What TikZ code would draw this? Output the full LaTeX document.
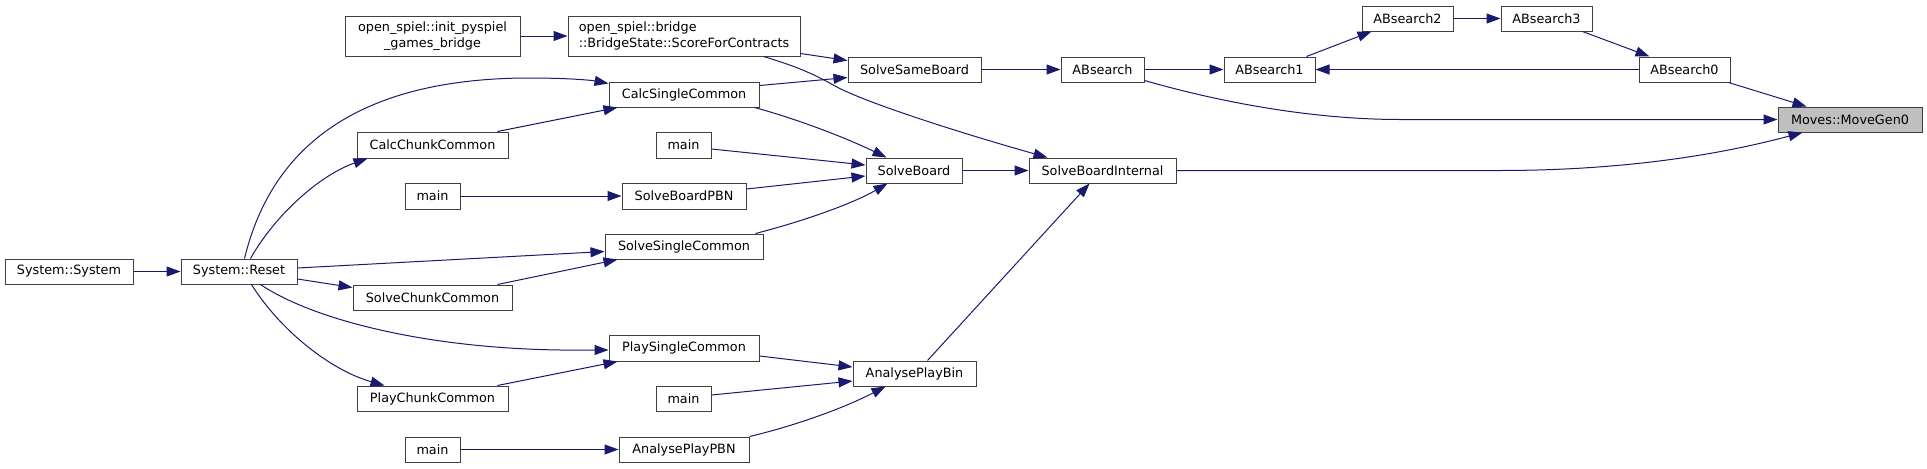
\documentclass[tikz,border=0pt]{standalone}
\usepackage{fontspec}
\setmainfont{DejaVu Sans}
\usetikzlibrary{arrows.meta,calc}
\definecolor{edgec}{HTML}{191970}
\definecolor{boxc}{HTML}{404040}
\definecolor{hl}{HTML}{BFBFBF}
\newcommand\gbox[7][]{\node[gnode,#1,minimum width={(#5-#3)*0.75pt},minimum height={(#6-#4)*0.75pt}] (#2) at ({(#3+#5)/2},{(#4+#6)/2}) {#7};}
\tikzset{
  gnode/.style={draw=boxc, line width=0.75pt, fill=white, inner sep=0pt, font=\fontsize{9.6}{12}\selectfont},
  ed/.style={draw=edgec, line width=0.75pt, -{Triangle[length=10.5pt,width=7.5pt]}}
}
\begin{document}
\begin{tikzpicture}[x=0.75pt,y=-0.75pt]
\useasboundingbox (0,0) rectangle (1927,468);
\fill[white] (0,0) rectangle (1927,468);
% nodes
\gbox[align=center]{init}{345}{16}{520}{56}{open\_spiel::init\_pyspiel\\\_games\_bridge}
\gbox[align=left]{sfc}{568}{16}{800}{56}{open\_spiel::bridge\\::BridgeState::ScoreForContracts}
\gbox{csc}{609}{82}{759}{107}{CalcSingleCommon}
\gbox{ccc}{357}{132}{508}{158}{CalcChunkCommon}
\gbox{ma}{656}{132}{711}{158}{main}
\gbox{sbpbn}{622}{183}{746}{209}{SolveBoardPBN}
\gbox{mb}{405}{183}{460}{209}{main}
\gbox{ssb}{848}{57}{981}{82}{SolveSameBoard}
\gbox{abs}{1061}{57}{1144}{82}{ABsearch}
\gbox{abone}{1224}{57}{1315}{82}{ABsearch1}
\gbox{abtwo}{1362}{6}{1453}{31}{ABsearch2}
\gbox{abthree}{1501}{6}{1592}{31}{ABsearch3}
\gbox{abzero}{1639}{57}{1730}{82}{ABsearch0}
\gbox[fill=hl]{mg}{1778}{107}{1922}{132}{Moves::MoveGen0}
\gbox{sb}{866}{158}{962}{183}{SolveBoard}
\gbox{sbi}{1029}{158}{1176}{183}{SolveBoardInternal}
\gbox{sys}{5}{259}{133}{284}{System::System}
\gbox{rst}{181}{259}{297}{284}{System::Reset}
\gbox{ssc}{605}{234}{763}{259}{SolveSingleCommon}
\gbox{schk}{353}{285}{512}{310}{SolveChunkCommon}
\gbox{psc}{609}{335}{759}{361}{PlaySingleCommon}
\gbox{pcc}{357}{386}{508}{411}{PlayChunkCommon}
\gbox{mc}{656}{386}{711}{411}{main}
\gbox{md}{405}{437}{460}{462}{main}
\gbox{apbn}{619}{437}{749}{462}{AnalysePlayPBN}
\gbox{apb}{853}{361}{976}{386}{AnalysePlayBin}
% edges
\draw[ed] (init) -- (sfc);
\draw[ed] ($(sfc.south east)+(0,-3)$) -- ($(ssb.north west)+(0,4)$);
\draw[ed] ($(csc.north east)+(0,4)$) -- ($(ssb.south west)+(0,-5)$);
\draw[ed] ($(sfc.south east)+(-37,0)$) .. controls (795,66) and (812,73) .. (835,86) .. controls (862,101) and (950,130) .. ($(sbi.north west)+(19,0)$);
\draw[ed] ($(csc.south east)+(-5,0)$) .. controls (790,117) and (840,135) .. ($(sb.north west)+(21,0)$);
\draw[ed] ($(ma.east)+(0,4)$) -- ($(sb.west)+(0,-5.5)$);
\draw[ed] ($(sbpbn.east)+(0,-7)$) -- ($(sb.west)+(0,5.5)$);
\draw[ed] ($(ssc.north east)+(-8,0)$) .. controls (800,222) and (850,205) .. ($(sb.south west)+(22,0)$);
\draw[ed] (sb) -- (sbi);
\draw[ed] (ssb) -- (abs);
\draw[ed] (abs) -- (abone);
\draw[ed] ($(abs.south east)+(0,-2)$) .. controls (1230,105) and (1320,119.5) .. (1400,119.5) -- (mg.west);
\draw[ed] ($(abone.north east)+(-9,0)$) -- ($(abtwo.south west)+(10,0)$);
\draw[ed] (abtwo) -- (abthree);
\draw[ed] ($(abthree.south east)+(-10,0)$) -- ($(abzero.north west)+(11,0)$);
\draw[ed] (abzero) -- (abone);
\draw[ed] ($(abzero.south east)+(-2,0)$) -- ($(mg.north west)+(29,0)$);
\draw[ed] (sbi.east) -- (1500,170.5) .. controls (1600,170.5) and (1700,160) .. ($(mg.south west)+(25,0)$);
\draw[ed] ($(apb.north west)+(75,0)$) -- ($(sbi.south west)+(61,0)$);
\draw[ed] (sys) -- (rst);
\draw[ed] ($(rst.north west)+(64,0)$) .. controls (272,145) and (360,78) .. (530,78) .. controls (565,78) and (590,80) .. ($(csc.north west)+(0,2)$);
\draw[ed] ($(rst.north west)+(70,0)$) .. controls (275,215) and (320,175) .. ($(ccc.south west)+(11,0)$);
\draw[ed] ($(ccc.north east)+(-11,0)$) -- ($(csc.south west)+(9,0)$);
\draw[ed] (mb) -- (sbpbn);
\draw[ed] ($(rst.east)+(0,-3.5)$) -- ($(ssc.west)+(0,5)$);
\draw[ed] ($(rst.east)+(0,7.5)$) -- ($(schk.north west)+(0,3)$);
\draw[ed] ($(schk.north east)+(-15,0)$) -- ($(ssc.south west)+(13,0)$);
\draw[ed] ($(rst.south west)+(80,0)$) .. controls (310,318) and (420,348) .. (560,350) -- ($(psc.west)+(0,2)$);
\draw[ed] ($(rst.south west)+(71,0)$) .. controls (280,330) and (330,370) .. ($(pcc.north west)+(28,0)$);
\draw[ed] ($(pcc.north east)+(-11,0)$) -- ($(psc.south west)+(9,0)$);
\draw[ed] ($(psc.east)+(0,8)$) -- ($(apb.west)+(0,-6.5)$);
\draw[ed] ($(mc.east)+(0,-3.5)$) -- ($(apb.west)+(0,7.5)$);
\draw[ed] (apbn.north east) .. controls (790,427) and (840,410) .. ($(apb.south west)+(33,0)$);
\draw[ed] (md) -- (apbn);
\end{tikzpicture}
\end{document}
